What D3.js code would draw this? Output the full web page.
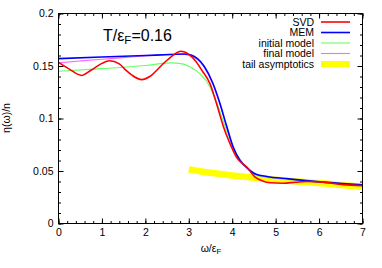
<!DOCTYPE html>
<html>
<head>
<meta charset="utf-8"/>
<script src="https://d3js.org/d3.v7.min.js"></script>
<style>
  body { margin: 0; background: #fff; }
  svg { display: block; }
  text { font-family: "Liberation Sans", Arial, sans-serif; fill: #000; }
  .curve { fill: none; stroke-linejoin: round; }
</style>
</head>
<body>
<div id="chart"></div>
<script>
// ---------- data ----------
var svdW   = [0, 0.25, 0.53, 0.75, 1.0, 1.17, 1.4, 1.55, 1.7, 1.92, 2.1, 2.37, 2.6, 2.82, 3.0, 3.15, 3.3, 3.49, 3.64, 3.8, 3.95, 4.1, 4.33, 4.52, 4.7, 4.87, 5.17, 5.45, 5.71, 6.09, 6.55, 7.0];
var svdEta = [0.1535, 0.147, 0.141, 0.146, 0.1525, 0.155, 0.152, 0.146, 0.141, 0.137, 0.140, 0.1505, 0.159, 0.164, 0.161, 0.155, 0.146, 0.133, 0.114, 0.092, 0.076, 0.063, 0.054, 0.0445, 0.0405, 0.0388, 0.0384, 0.0393, 0.0400, 0.0394, 0.0370, 0.0360];

var memW   = [0, 1, 2, 2.6, 2.9, 3.05, 3.2, 3.35, 3.55, 3.72, 3.87, 4.02, 4.18, 4.33, 4.55, 4.8, 5.3, 6.1, 7.0];
var memEta = [0.157, 0.1585, 0.160, 0.161, 0.1615, 0.1605, 0.157, 0.150, 0.134, 0.114, 0.093, 0.073, 0.060, 0.0535, 0.047, 0.0448, 0.0425, 0.0394, 0.0368];

var initW   = [0, 1, 2, 2.6, 2.85, 3.03, 3.26, 3.49, 3.68, 3.87, 4.02, 4.26, 4.56, 5.0, 5.5, 6.0, 6.5, 7.0];
var initEta = [0.145, 0.1475, 0.1505, 0.153, 0.152, 0.149, 0.1425, 0.130, 0.111, 0.0886, 0.0727, 0.057, 0.0457, 0.043, 0.0412, 0.0393, 0.0375, 0.0358];

var finalW   = [0, 0.5, 1, 1.5, 2, 2.6, 2.9, 3.05, 3.2, 3.35, 3.55, 3.72, 3.87, 4.02, 4.18, 4.33, 4.55, 4.8, 5.3, 6.1, 7.0];
var finalEta = [0.153, 0.1548, 0.1565, 0.158, 0.1595, 0.1612, 0.161, 0.1595, 0.156, 0.149, 0.133, 0.113, 0.092, 0.0725, 0.0595, 0.053, 0.0466, 0.0444, 0.0422, 0.0392, 0.0366];

var tailW   = [3.0, 3.5, 4.0, 4.5, 5.0, 5.5, 6.0, 6.5, 7.0];
var tailEta = [0.0515, 0.0484, 0.0458, 0.0436, 0.0417, 0.0400, 0.0386, 0.0367, 0.0349];

var xTicks = [0, 1, 2, 3, 4, 5, 6, 7];
var yTicks = [0, 0.05, 0.1, 0.15, 0.2];
var yTickLabels = ["0", "0.05", "0.1", "0.15", "0.2"];

// ---------- layout ----------
var W = 382, H = 268;
var pLeft = 58.5, pRight = 362.5, pTop = 13.5, pBottom = 223.5;

var x = d3.scaleLinear().domain([0, 7]).range([pLeft, pRight]);
var y = d3.scaleLinear().domain([0, 0.2]).range([pBottom, pTop]);

var svg = d3.select("#chart").append("svg")
  .attr("width", W)
  .attr("height", H);

svg.append("defs").append("clipPath").attr("id", "clip")
  .append("rect")
    .attr("x", pLeft).attr("y", pTop)
    .attr("width", pRight - pLeft).attr("height", pBottom - pTop);

// minor / major ticks, mirrored on all four sides
var xMinor = d3.range(0, 7.001, 0.2);
var yMinor = d3.range(0, 0.2001, 0.01);

function styleAxis(g) {
  g.select(".domain").remove();
  g.selectAll("line").attr("stroke", "#000");
  g.selectAll("text").style("font-size", "10.5px").attr("fill", "#000");
}

svg.append("g").attr("transform", "translate(0," + pBottom + ")")
  .call(d3.axisBottom(x).tickValues(xMinor).tickSize(-2.5).tickFormat(""))
  .call(styleAxis);
svg.append("g").attr("transform", "translate(0," + pTop + ")")
  .call(d3.axisTop(x).tickValues(xMinor).tickSize(-2.5).tickFormat(""))
  .call(styleAxis);
svg.append("g").attr("transform", "translate(" + pLeft + ",0)")
  .call(d3.axisLeft(y).tickValues(yMinor).tickSize(-2.5).tickFormat(""))
  .call(styleAxis);
svg.append("g").attr("transform", "translate(" + pRight + ",0)")
  .call(d3.axisRight(y).tickValues(yMinor).tickSize(-2.5).tickFormat(""))
  .call(styleAxis);

svg.append("g").attr("transform", "translate(0," + pBottom + ")")
  .call(d3.axisBottom(x).tickValues(xTicks).tickSizeInner(-5).tickSizeOuter(0).tickPadding(5)
    .tickFormat(d3.format("d")))
  .call(styleAxis);
svg.append("g").attr("transform", "translate(0," + pTop + ")")
  .call(d3.axisTop(x).tickValues(xTicks).tickSizeInner(-5).tickSizeOuter(0).tickFormat(""))
  .call(styleAxis);
svg.append("g").attr("transform", "translate(" + pLeft + ",0)")
  .call(d3.axisLeft(y).tickValues(yTicks).tickSizeInner(-5).tickSizeOuter(0).tickPadding(5)
    .tickFormat(function(d, i) { return yTickLabels[i]; }))
  .call(styleAxis);
svg.append("g").attr("transform", "translate(" + pRight + ",0)")
  .call(d3.axisRight(y).tickValues(yTicks).tickSizeInner(-5).tickSizeOuter(0).tickFormat(""))
  .call(styleAxis);

// ---------- curves ----------
function pairs(ws, es) { return ws.map(function(w, i) { return [w, es[i]]; }); }

var line = d3.line()
  .x(function(d) { return x(d[0]); })
  .y(function(d) { return y(d[1]); })
  .curve(d3.curveMonotoneX);

var series = [
  { data: pairs(tailW, tailEta),   color: "#ffff00", width: 6.5 },
  { data: pairs(initW, initEta),   color: "#66ff66", width: 1.1 },
  { data: pairs(finalW, finalEta), color: "#ff66ff", width: 1.1 },
  { data: pairs(memW, memEta),     color: "#0000ff", width: 1.6 },
  { data: pairs(svdW, svdEta),     color: "#ff0000", width: 1.6 }
];

var plot = svg.append("g").attr("clip-path", "url(#clip)");
series.forEach(function(s) {
  plot.append("path")
    .datum(s.data)
    .attr("class", "curve")
    .attr("stroke", s.color)
    .attr("stroke-width", s.width)
    .attr("d", line);
});

// frame
svg.append("rect")
  .attr("x", pLeft).attr("y", pTop)
  .attr("width", pRight - pLeft).attr("height", pBottom - pTop)
  .attr("fill", "none").attr("stroke", "#000").attr("stroke-width", 1);

// ---------- legend ----------
var legend = [
  { label: "SVD",              color: "#ff0000", width: 1.6 },
  { label: "MEM",              color: "#0000ff", width: 1.6 },
  { label: "initial model",    color: "#66ff66", width: 1.1 },
  { label: "final model",      color: "#ff66ff", width: 1.1 },
  { label: "tail asymptotics", color: "#ffff00", width: 6 }
];
legend.forEach(function(d, i) {
  var ly = 22 + i * 10.5;
  svg.append("text")
    .attr("x", 314).attr("y", ly)
    .attr("dy", "0.35em")
    .attr("text-anchor", "end")
    .style("font-size", "10.5px")
    .text(d.label);
  svg.append("line")
    .attr("x1", 321).attr("x2", 350)
    .attr("y1", ly).attr("y2", ly)
    .attr("stroke", d.color)
    .attr("stroke-width", d.width);
});

// ---------- titles ----------
var t = svg.append("text").attr("x", 103).attr("y", 41).style("font-size", "16px");
t.append("tspan").text("T/\u03b5");
t.append("tspan").attr("dy", 3).style("font-size", "11.5px").text("F");
t.append("tspan").attr("dy", -3).text("=0.16");

var xl = svg.append("text").attr("x", 211).attr("y", 252)
  .attr("text-anchor", "middle").style("font-size", "10.5px");
xl.append("tspan").text("\u03c9/\u03b5");
xl.append("tspan").attr("dy", 2).style("font-size", "8px").text("F");

svg.append("text")
  .attr("transform", "translate(10,118) rotate(-90)")
  .attr("text-anchor", "middle")
  .style("font-size", "10.5px")
  .text("\u03b7(\u03c9)/n");
</script>
</body>
</html>
